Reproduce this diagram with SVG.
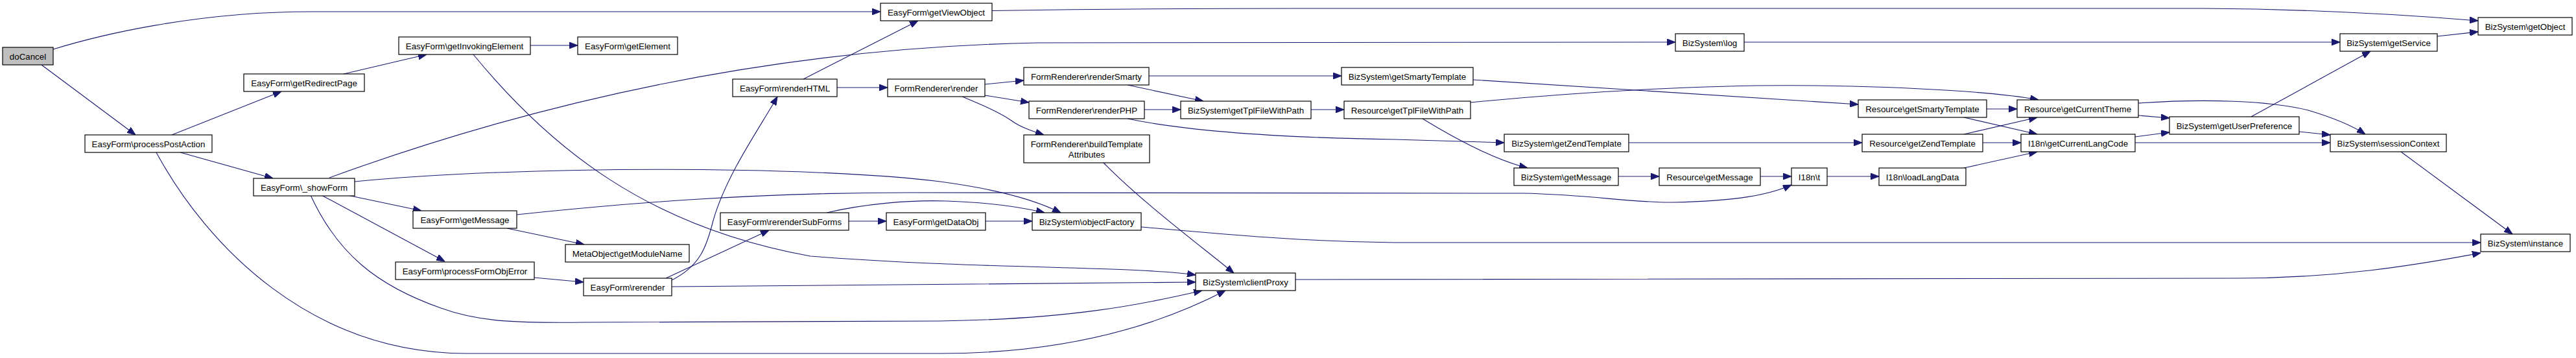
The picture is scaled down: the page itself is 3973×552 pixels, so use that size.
<svg xmlns="http://www.w3.org/2000/svg" width="3973" height="552" viewBox="0 0 3973 552">
<style>
.n rect{fill:#fff;stroke:#000;stroke-width:1.2}
.root rect{fill:#bfbfbf}
.n text{font-family:"Liberation Sans",Arial,Helvetica,sans-serif;font-size:13.33px;fill:#000;text-anchor:middle}
.e path{fill:none;stroke:#191970;stroke-width:1.1;marker-end:url(#ah)}
</style>
<defs>
<marker id="ah" markerUnits="userSpaceOnUse" viewBox="0 0 13 10" markerWidth="13" markerHeight="10" refX="13" refY="5" orient="auto">
<path d="M0,0 L13,5 L0,10 z" fill="#191970" stroke="#191970" stroke-width="1"/>
</marker>
</defs>
<rect width="3973" height="552" fill="#fff"/>
<g id="edges" class="e">
<path d="M82,76 C150,55 300,18 480,18 L1358,18"/>
<path d="M64,100 L209,208"/>
<path d="M265,208 L434,141"/>
<path d="M278,235 L421,275"/>
<path d="M241,235 C320,380 480,545 720,545 L1450,545 C1650,545 1790,500 1890,448"/>
<path d="M530,114 L658,84"/>
<path d="M818,70 L891,70"/>
<path d="M730,84 C850,230 1000,350 1250,395 C1500,415 1750,410 1844,424"/>
<path d="M508,274 C780,175 1150,75 1600,66 L2584,65"/>
<path d="M536,301 L650,325"/>
<path d="M496,301 L686,403"/>
<path d="M479,301 C520,390 580,440 680,475 C740,497 800,498 900,497 L1450,495 C1650,492 1760,470 1854,448"/>
<path d="M547,280 C800,255 1250,255 1450,280 C1540,292 1600,310 1636,328"/>
<path d="M797,331 C950,315 1150,297 1400,297 L2350,298 C2450,300 2520,313 2580,312 C2680,310 2730,300 2763,285"/>
<path d="M824,428 L900,435"/>
<path d="M782,352 L901,377"/>
<path d="M1036,442 C1300,440 1600,437 1844,435"/>
<path d="M1027,429 L1186,355"/>
<path d="M1036,432 C1080,410 1090,380 1100,340 C1120,270 1170,200 1199,149"/>
<path d="M1239,122 L1416,32"/>
<path d="M1291,135 L1369,135"/>
<path d="M1519,130 L1579,124"/>
<path d="M1519,147 L1587,158"/>
<path d="M1484,149 C1510,160 1540,172 1560,186 C1575,197 1595,203 1610,208"/>
<path d="M1702,251 C1760,310 1840,370 1903,421"/>
<path d="M1772,117 L2069,117"/>
<path d="M1739,131 L1856,156"/>
<path d="M1765,169 L1821,169"/>
<path d="M1739,183 C1820,200 1950,212 2150,215 L2320,220"/>
<path d="M2022,169 L2073,169"/>
<path d="M2272,123 L2866,161"/>
<path d="M2268,158 C2450,140 2650,130 2800,132 C2950,134 3080,142 3144,154"/>
<path d="M2194,183 C2230,205 2300,245 2356,259"/>
<path d="M2512,220 L2872,220"/>
<path d="M2496,272 L2559,272"/>
<path d="M2715,272 L2763,272"/>
<path d="M2818,272 L2898,272"/>
<path d="M3029,259 L3142,234"/>
<path d="M3064,168 L3111,168"/>
<path d="M3029,181 L3142,207"/>
<path d="M3029,207 L3142,181"/>
<path d="M3058,220 L3117,220"/>
<path d="M3298,159 C3400,152 3500,155 3560,170 C3600,182 3630,195 3648,207"/>
<path d="M3298,178 L3346,182"/>
<path d="M3293,211 L3346,204"/>
<path d="M3293,220 L3594,220"/>
<path d="M3472,180 L3656,79"/>
<path d="M3546,203 L3594,208"/>
<path d="M3759,56 L3822,49"/>
<path d="M2690,65 L3609,65"/>
<path d="M1530,16.5 C1700,14 1800,13 2000,13 L3400,13 C3550,14 3700,22 3822,32"/>
<path d="M3703,234 L3875,361"/>
<path d="M1760,350 C1900,362 2000,372 2150,374 L3826,374"/>
<path d="M1998,431 L3450,429 C3600,429 3720,410 3826,390"/>
<path d="M1309,341 L1367,341"/>
<path d="M1275,328 C1330,315 1400,308 1460,310 C1520,312 1570,318 1611,328"/>
<path d="M1520,341 L1592,341"/>
</g>
<g id="n0" class="n root"><rect x="4" y="73" width="78" height="27"/><text x="43" y="91.5">doCancel</text></g>
<g id="n1" class="n"><rect x="131" y="208" width="196" height="27"/><text x="229" y="226.5">EasyForm\processPostAction</text></g>
<g id="n2" class="n"><rect x="376" y="114" width="186" height="27"/><text x="469" y="132.5">EasyForm\getRedirectPage</text></g>
<g id="n3" class="n"><rect x="391" y="275" width="156" height="27"/><text x="469" y="293.5">EasyForm\_showForm</text></g>
<g id="n4" class="n"><rect x="615" y="57" width="203" height="27"/><text x="716.5" y="75.5">EasyForm\getInvokingElement</text></g>
<g id="n5" class="n"><rect x="637" y="325" width="160" height="27"/><text x="717" y="343.5">EasyForm\getMessage</text></g>
<g id="n6" class="n"><rect x="610" y="404" width="214" height="27"/><text x="717" y="422.5">EasyForm\processFormObjError</text></g>
<g id="n7" class="n"><rect x="891" y="57" width="154" height="27"/><text x="968" y="75.5">EasyForm\getElement</text></g>
<g id="n8" class="n"><rect x="872" y="377" width="191" height="27"/><text x="967.5" y="395.5">MetaObject\getModuleName</text></g>
<g id="n9" class="n"><rect x="900" y="429" width="136" height="27"/><text x="968" y="447.5">EasyForm\rerender</text></g>
<g id="n10" class="n"><rect x="1130" y="122" width="161" height="27"/><text x="1210.5" y="140.5">EasyForm\renderHTML</text></g>
<g id="n11" class="n"><rect x="1111" y="328" width="198" height="27"/><text x="1210" y="346.5">EasyForm\rerenderSubForms</text></g>
<g id="n12" class="n"><rect x="1358" y="5" width="172" height="27"/><text x="1444" y="23.5">EasyForm\getViewObject</text></g>
<g id="n13" class="n"><rect x="1369" y="122" width="150" height="27"/><text x="1444" y="140.5">FormRenderer\render</text></g>
<g id="n14" class="n"><rect x="1367" y="328" width="153" height="27"/><text x="1443.5" y="346.5">EasyForm\getDataObj</text></g>
<g id="n15" class="n"><rect x="1579" y="104" width="193" height="27"/><text x="1675.5" y="122.5">FormRenderer\renderSmarty</text></g>
<g id="n16" class="n"><rect x="1587" y="156" width="178" height="27"/><text x="1676" y="174.5">FormRenderer\renderPHP</text></g>
<g id="n17" class="n"><rect x="1579" y="208" width="194" height="43"/><text x="1676" y="226.5">FormRenderer\buildTemplate</text><text x="1676" y="242.5">Attributes</text></g>
<g id="n18" class="n"><rect x="1592" y="328" width="168" height="27"/><text x="1676" y="346.5">BizSystem\objectFactory</text></g>
<g id="n19" class="n"><rect x="1821" y="156" width="201" height="27"/><text x="1921.5" y="174.5">BizSystem\getTplFileWithPath</text></g>
<g id="n20" class="n"><rect x="1844" y="421" width="154" height="27"/><text x="1921" y="439.5">BizSystem\clientProxy</text></g>
<g id="n21" class="n"><rect x="2069" y="104" width="203" height="27"/><text x="2170.5" y="122.5">BizSystem\getSmartyTemplate</text></g>
<g id="n22" class="n"><rect x="2073" y="156" width="195" height="27"/><text x="2170.5" y="174.5">Resource\getTplFileWithPath</text></g>
<g id="n23" class="n"><rect x="2320" y="207" width="192" height="27"/><text x="2416" y="225.5">BizSystem\getZendTemplate</text></g>
<g id="n24" class="n"><rect x="2335" y="259" width="161" height="27"/><text x="2415.5" y="277.5">BizSystem\getMessage</text></g>
<g id="n25" class="n"><rect x="2584" y="52" width="106" height="27"/><text x="2637" y="70.5">BizSystem\log</text></g>
<g id="n26" class="n"><rect x="2559" y="259" width="156" height="27"/><text x="2637" y="277.5">Resource\getMessage</text></g>
<g id="n27" class="n"><rect x="2763" y="259" width="55" height="27"/><text x="2790.5" y="277.5">I18n\t</text></g>
<g id="n28" class="n"><rect x="2866" y="154" width="198" height="27"/><text x="2965" y="172.5">Resource\getSmartyTemplate</text></g>
<g id="n29" class="n"><rect x="2872" y="207" width="186" height="27"/><text x="2965" y="225.5">Resource\getZendTemplate</text></g>
<g id="n30" class="n"><rect x="2898" y="259" width="134" height="27"/><text x="2965" y="277.5">I18n\loadLangData</text></g>
<g id="n31" class="n"><rect x="3111" y="154" width="187" height="27"/><text x="3204.5" y="172.5">Resource\getCurrentTheme</text></g>
<g id="n32" class="n"><rect x="3117" y="207" width="176" height="27"/><text x="3205" y="225.5">I18n\getCurrentLangCode</text></g>
<g id="n33" class="n"><rect x="3346" y="180" width="200" height="27"/><text x="3446" y="198.5">BizSystem\getUserPreference</text></g>
<g id="n34" class="n"><rect x="3609" y="52" width="150" height="27"/><text x="3684" y="70.5">BizSystem\getService</text></g>
<g id="n35" class="n"><rect x="3594" y="207" width="179" height="27"/><text x="3683.5" y="225.5">BizSystem\sessionContext</text></g>
<g id="n36" class="n"><rect x="3822" y="27" width="145" height="27"/><text x="3894.5" y="45.5">BizSystem\getObject</text></g>
<g id="n37" class="n"><rect x="3826" y="361" width="138" height="27"/><text x="3895" y="379.5">BizSystem\instance</text></g>
</svg>
